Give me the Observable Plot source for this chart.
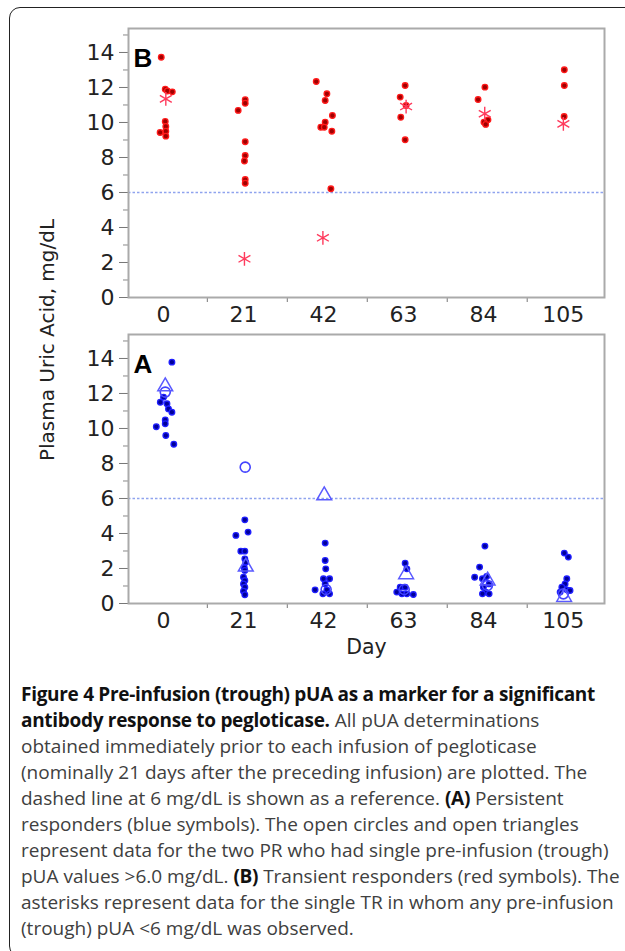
<!DOCTYPE html>
<html>
<head>
<meta charset="utf-8">
<script src="https://cdn.jsdelivr.net/npm/d3@7"></script>
<script src="https://cdn.jsdelivr.net/npm/@observablehq/plot@0.6"></script>
<style>
  html, body { margin: 0; padding: 0; background: #fff; }
  #wrap { position: relative; width: 625px; height: 951px; overflow: hidden; background: #fff; }
  #border { position: absolute; left: 9px; top: 7px; width: 680px; height: 950px; border: 1.6px solid #222; border-radius: 11px; box-sizing: border-box; }
  #plotB, #plotA { position: absolute; left: 0; }
  #plotB { top: 0; }
  #plotA { top: 306px; }
  #ytitle { position: absolute; left: 47px; top: 340px; transform: translate(-50%, -50%) rotate(-90deg); white-space: nowrap; font-family: "DejaVu Sans", sans-serif; font-size: 20px; color: #222; }
  #cap { position: absolute; left: 21px; top: 681px; font-family: "Open Sans", sans-serif; font-size: 19px; line-height: 26px; color: #404040; white-space: pre; }
  #cap b { color: #111; font-weight: 700; letter-spacing: -0.3px; }
</style>
</head>
<body>
<div id="wrap">
  <div id="border"></div>
  <div id="plotB"></div>
  <div id="plotA"></div>
  <div id="ytitle">Plasma Uric Acid, mg/dL</div>
  <div id="cap"><div><b>Figure 4 Pre-infusion (trough) pUA as a marker for a significant</b></div><div><b>antibody response to pegloticase.</b> All pUA determinations</div><div>obtained immediately prior to each infusion of pegloticase</div><div>(nominally 21 days after the preceding infusion) are plotted. The</div><div>dashed line at 6 mg/dL is shown as a reference. <b>(A)</b> Persistent</div><div>responders (blue symbols). The open circles and open triangles</div><div>represent data for the two PR who had single pre-infusion (trough)</div><div>pUA values &gt;6.0 mg/dL. <b>(B)</b> Transient responders (red symbols). The</div><div>asterisks represent data for the single TR in whom any pre-infusion</div><div>(trough) pUA &lt;6 mg/dL was observed.</div></div>
</div>
<script>
// ---- Data ----
const days = [0, 21, 42, 63, 84, 105];
const yTicks = [0, 2, 4, 6, 8, 10, 12, 14];
const yMinor = [1, 3, 5, 7, 9, 11, 13, 15];
const refLine = 6;

// Panel B: transient responders (red), filled dots
const bDotDay = [0,0,0,0,0,0,0,0,0, 21,21,21,21,21,21,21,21, 42,42,42,42,42,42,42,42,42, 63,63,63,63,63, 84,84,84,84,84, 105,105,105];
const bDotVal = [13.73,11.9,11.8,11.75,10.06,9.77,9.5,9.43,9.22, 10.69,11.3,11.1,8.9,8.11,7.8,6.74,6.53, 12.34,11.64,11.26,10.4,10.02,9.73,9.73,9.5,6.21, 12.11,11.45,10.97,10.3,9.01, 12.02,11.31,10.15,10.02,9.89, 13.01,12.11,10.34];
const bDotJit = [-0.6,0.45,1.0,2.3,0.45,0.6,0.6,-0.9,0.6, -1.4,0.45,0.45,0.45,0.45,0.25,0.45,0.45, -1.9,0.9,0.45,2.35,0.45,-0.7,0.2,2.2,1.95, 0.45,-0.85,0.7,-0.7,0.45, 0.4,-1.4,1.2,0.15,0.6, 0.25,0.25,0.2];
// Panel B: asterisks (single TR with a trough < 6)
const bAstDay = [0, 21, 42, 63, 84, 105];
const bAstVal = [11.35, 2.21, 3.41, 10.91, 10.5, 9.92];
const bAstJit = [0.6, 0.25, -0.15, 0.7, 0.35, 0];

// Panel A: persistent responders (blue), filled dots
const aDotDay = [0,0,0,0,0,0,0,0,0,0,0, 21,21,21,21,21,21,21,21,21,21,21,21,21,21,21, 42,42,42,42,42,42,42,42,42,42, 63,63,63,63,63,63,63,63, 84,84,84,84,84,84,84,84,84,84, 105,105,105,105,105,105,105,105];
const aDotVal = [13.79,11.79,11.5,11.41,11.12,10.93,10.49,10.27,10.1,9.6,9.1, 4.78,3.89,4.08,2.99,2.99,2.55,2.36,2.04,1.89,1.5,1.31,1.12,0.93,0.7,0.5, 3.45,2.46,1.98,1.41,1.41,1.12,0.78,0.78,0.55,0.55, 2.3,1.98,0.93,0.93,0.65,0.55,0.55,0.51, 3.28,2.08,1.5,1.41,1.54,1.12,0.93,0.65,0.55,0.55, 2.88,2.65,1.41,1.12,0.93,0.78,0.74,0.65];
const aDotJit = [2.2,0,-0.85,0.9,1.3,2.2,0.45,0.45,-1.9,0.6,2.7, 0.35,-2.0,1.2,-0.7,0.35,0.35,0.6,0.2,0.35,0,0.35,0,0.35,0,0.35, 0.45,0.45,0.6,1.6,0,0.45,-2.2,0.9,-0.15,1.6, 0.45,0.9,-0.85,0.45,-1.75,-0.4,0.9,2.6, 0.4,-1.0,-2.3,-0.25,0.85,1.5,0,0.6,-0.25,1.5, 0.25,1.3,0.9,0.45,-0.4,0.9,1.75,-0.85];
// Panel A: open circles and open triangles (two PR with a single trough > 6)
const aCirDay = [0, 21, 42, 63, 84, 105];
const aCirVal = [12.08, 7.79, 0.8, 0.8, 1.03, 0.55];
const aCirJit = [0.45, 0.45, 0.7, 0.2, 1.05, 0];
const aTriDay = [0, 21, 42, 63, 84, 105];
const aTriVal = [12.4, 2.1, 6.17, 1.66, 1.3, 0.36];
const aTriJit = [0.45, 0.6, 0.2, 0.7, 1.1, 0.2];

const rows = (d, v, j) => d.map((day, i) => ({day, v: v[i], j: j[i]}));
const xPos = d => d.day + d.j;
const between = days.slice(1).map(d => d - 9.5);

function panel(letter, marks, height, marginBottom, extra) {
  return Plot.plot({
    width: 625,
    height,
    marginTop: 28,
    marginBottom,
    marginLeft: 128,
    marginRight: 21,
    style: {fontFamily: "DejaVu Sans, sans-serif", background: "transparent"},
    x: {type: "linear", domain: [-9.2, 115.8]},
    y: {domain: [0, 15.37]},
    marks: [
      Plot.ruleY([refLine], {stroke: "#8fa3ee", strokeWidth: 1.3, strokeDasharray: "2.5,2"}),
      Plot.axisY(yTicks, {tickSize: 9, tickPadding: 5, fontSize: 22, color: "#222", stroke: "#777", label: null}),
      Plot.axisY(yMinor.filter(t => t < 15.37), {tickSize: 5, tickFormat: () => "", stroke: "#888", label: null}),
      Plot.axisX(days, {tickSize: 0, tickPadding: 9, fontSize: 22, color: "#222", label: null}),
      Plot.axisX(between, {tickSize: 5, tickFormat: () => "", stroke: "#777", label: null}),
      ...marks,
      Plot.frame({stroke: "#aaa", strokeWidth: 2}),
      Plot.text([letter], {text: d => d, frameAnchor: "top-left", dx: 5, dy: 20, textAnchor: "start", fontSize: 26, fontWeight: "bold", fontFamily: "Liberation Sans, Arial, sans-serif", fill: "#000"}),
      ...(extra || [])
    ]
  });
}

const plotB = panel("B", [
  Plot.dot(rows(bDotDay, bDotVal, bDotJit), {x: xPos, y: "v", r: 2.8, fill: "#a00000", stroke: "#ff1a1a", strokeWidth: 1.3}),
  Plot.dot(rows(bAstDay, bAstVal, bAstJit), {x: xPos, y: "v", symbol: "asterisk", r: 6.5, stroke: "#ff3a5c", strokeWidth: 1.4})
], 330, 33);

const plotA = panel("A", [
  Plot.dot(rows(aDotDay, aDotVal, aDotJit), {x: xPos, y: "v", r: 2.8, fill: "#00009a", stroke: "#1f1fff", strokeWidth: 1.3}),
  Plot.dot(rows(aCirDay, aCirVal, aCirJit), {x: xPos, y: "v", symbol: "circle", r: 5, fill: "none", stroke: "#4343ff", strokeWidth: 1.6}),
  Plot.dot(rows(aTriDay, aTriVal, aTriJit), {x: xPos, y: "v", symbol: "triangle", r: 5.5, fill: "none", stroke: "#5a5aff", strokeWidth: 1.5})
], 362, 65, [
  Plot.text(["Day"], {text: d => d, frameAnchor: "bottom", dy: 50, fontSize: 20.5, fill: "#222"})
]);

document.getElementById("plotB").append(plotB);
document.getElementById("plotA").append(plotA);
</script>
</body>
</html>
